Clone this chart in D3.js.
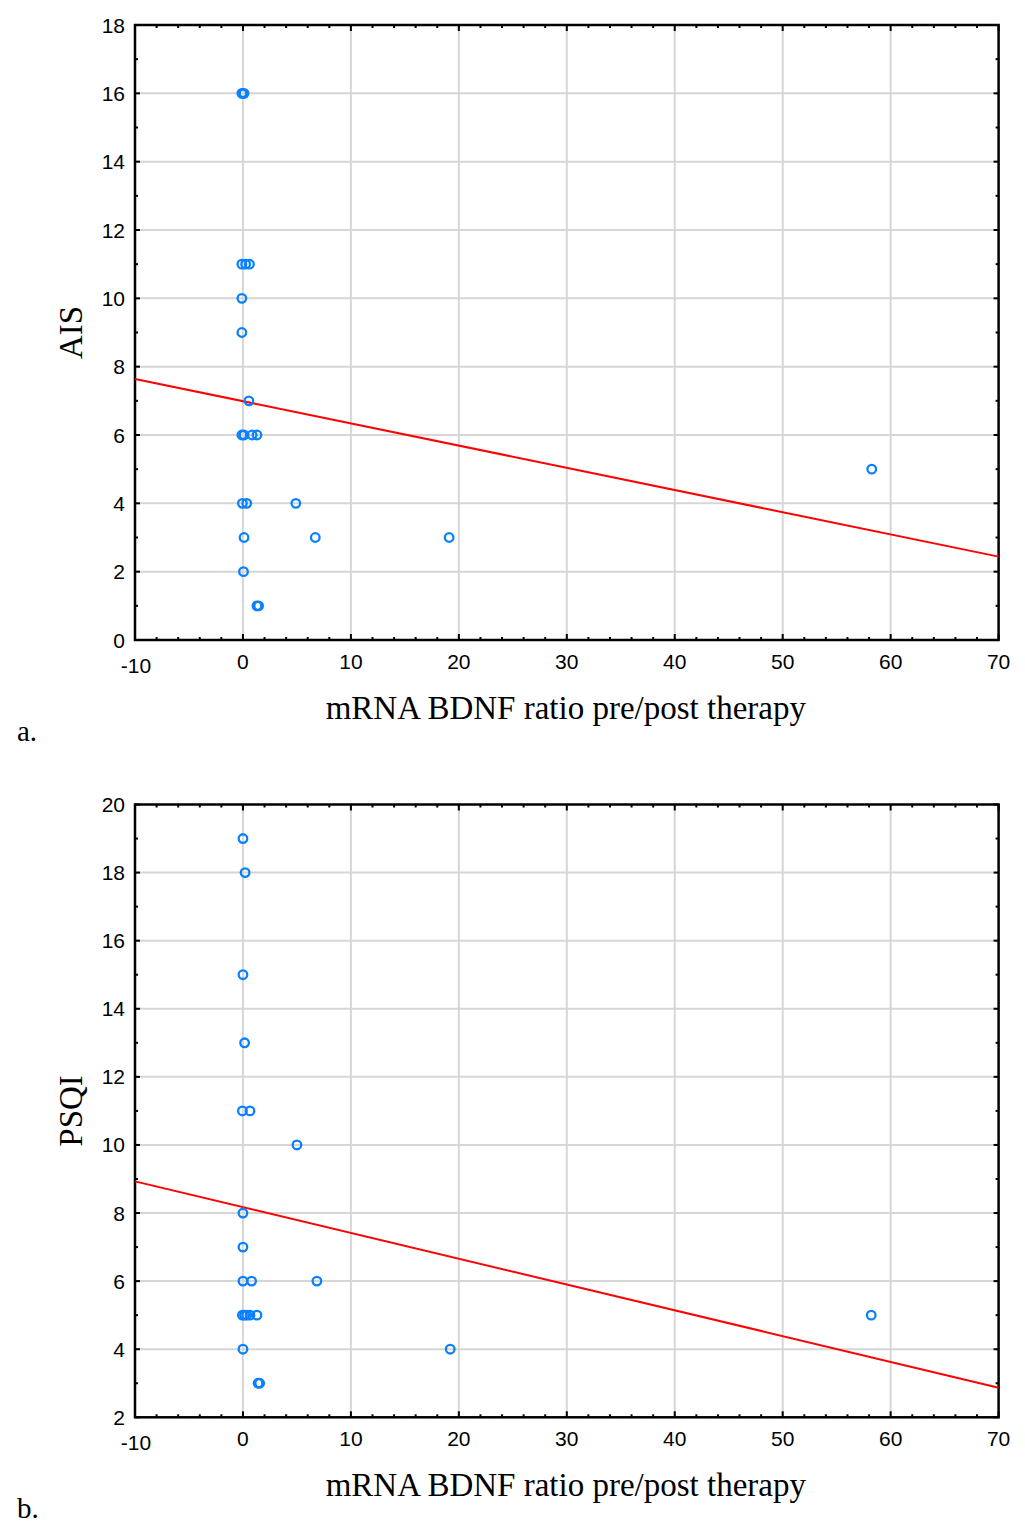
<!DOCTYPE html>
<html>
<head>
<meta charset="utf-8">
<script src="https://cdn.jsdelivr.net/npm/d3@7"></script>
<style>
  body { margin: 0; background: #fff; }
  svg { display: block; }
</style>
</head>
<body>
<svg id="chart" width="1025" height="1535"></svg>
<script>
// data
const AIS_X = [-0.1, 0.0, 0.1, -0.1, 0.25, 0.6, -0.1, -0.1, 0.55, -0.1, 0.1, 0.85, 1.3,
               -0.05, 0.35, 4.9, 0.1, 6.7, 19.1, 0.05, 1.3, 1.45, 58.25];
const AIS_Y = [16, 16, 16, 11, 11, 11, 10, 9, 7, 6, 6, 6, 6,
               4, 4, 4, 3, 3, 3, 2, 1, 1, 5];
const AIS_FIT = [[-10, 7.64], [70, 2.44]];

const PSQI_X = [0.0, 0.2, 0.0, 0.15, -0.05, 0.65, 5.0, 0.0, 0.0, 0.0, 0.8, 6.85,
                -0.05, 0.15, 0.35, 0.65, 1.3, 58.2, 0.0, 19.2, 1.4, 1.55];
const PSQI_Y = [19, 18, 15, 13, 11, 11, 10, 8, 7, 6, 6, 6,
                5, 5, 5, 5, 5, 5, 4, 4, 3, 3];
const PSQI_FIT = [[-10, 8.93], [70, 2.87]];

const X_TICKS = [-10, 0, 10, 20, 30, 40, 50, 60, 70];
const AIS_TICKS = [0, 2, 4, 6, 8, 10, 12, 14, 16, 18];
const PSQI_TICKS = [2, 4, 6, 8, 10, 12, 14, 16, 18, 20];
const X_LABEL = "mRNA BDNF ratio pre/post therapy";

const SVG = d3.select("#chart");
const LEFT = 135, RIGHT = 998.6;
const GRID = "#d6d6d6";
const DOT = "#0a80ff";
const SANS = "'Liberation Sans', Arial, sans-serif";
const SERIF = "'Liberation Serif', 'Times New Roman', serif";

function draw_panel(cfg) {
    const x = d3.scaleLinear().domain([-10, 70]).range([LEFT, RIGHT]);
    const y = d3.scaleLinear().domain(cfg.yDomain).range([cfg.bottom, cfg.top]);
    const g = SVG.append("g");

    // grid
    g.selectAll(".vg").data(X_TICKS.slice(1, -1)).join("line")
        .attr("x1", d => x(d)).attr("x2", d => x(d))
        .attr("y1", cfg.top).attr("y2", cfg.bottom)
        .attr("stroke", GRID).attr("stroke-width", 2);
    g.selectAll(".hg").data(cfg.yTicks.slice(1, -1)).join("line")
        .attr("x1", LEFT).attr("x2", RIGHT)
        .attr("y1", d => y(d)).attr("y2", d => y(d))
        .attr("stroke", GRID).attr("stroke-width", 2);

    // inward ticks, major and minor, on all four sides
    const xMinor = d3.range(-10, 70.01, 2);
    const yMinor = d3.range(cfg.yDomain[0], cfg.yDomain[1] + 0.01, 1);
    const tk = g.append("g").attr("stroke", "#000").attr("stroke-width", 2);
    xMinor.forEach(v => {
        const len = v % 10 === 0 ? 6 : 3;
        tk.append("line").attr("x1", x(v)).attr("x2", x(v)).attr("y1", cfg.bottom).attr("y2", cfg.bottom - len);
        tk.append("line").attr("x1", x(v)).attr("x2", x(v)).attr("y1", cfg.top).attr("y2", cfg.top + len);
    });
    yMinor.forEach(v => {
        const len = v % 2 === 0 ? 5 : 3;
        tk.append("line").attr("y1", y(v)).attr("y2", y(v)).attr("x1", LEFT).attr("x2", LEFT + len);
        tk.append("line").attr("y1", y(v)).attr("y2", y(v)).attr("x1", RIGHT).attr("x2", RIGHT - len);
    });

    // frame
    g.append("rect")
        .attr("x", LEFT).attr("y", cfg.top)
        .attr("width", RIGHT - LEFT).attr("height", cfg.bottom - cfg.top)
        .attr("fill", "none").attr("stroke", "#000").attr("stroke-width", 2.5);

    // tick labels
    g.selectAll(".yl").data(cfg.yTicks).join("text")
        .attr("x", LEFT - 10).attr("y", d => y(d) + 7.5)
        .attr("text-anchor", "end")
        .style("font-family", SANS)
        .style("font-size", "21px")
        .text(d => d);
    g.selectAll(".xl").data(X_TICKS).join("text")
        .attr("x", d => x(d) + (d === -10 ? 1 : 0))
        .attr("y", d => cfg.bottom + (d === -10 ? 33 : 29))
        .attr("text-anchor", "middle")
        .style("font-family", SANS)
        .style("font-size", "21px")
        .text(d => d < 0 ? "-" + Math.abs(d) : d);

    // fit line
    g.append("path")
        .datum(cfg.fit)
        .attr("d", d3.line().x(d => x(d[0])).y(d => y(d[1])))
        .attr("stroke", "#ff0000").attr("stroke-width", 2).attr("fill", "none");

    // points
    g.selectAll(".pt").data(cfg.xs.map((v, i) => [v, cfg.ys[i]])).join("circle")
        .attr("cx", d => x(d[0])).attr("cy", d => y(d[1]))
        .attr("r", 4.3)
        .attr("fill", "none").attr("stroke", DOT).attr("stroke-width", 2.3);

    // titles
    g.append("text")
        .attr("x", (LEFT + RIGHT) / 2 - 1).attr("y", cfg.bottom + 79)
        .attr("text-anchor", "middle")
        .style("font-family", SERIF)
        .style("font-size", "33px")
        .text(X_LABEL);
    g.append("text")
        .attr("transform", `translate(82, ${(cfg.top + cfg.bottom) / 2}) rotate(-90)`)
        .attr("text-anchor", "middle")
        .style("font-family", SERIF)
        .style("font-size", "33px")
        .text(cfg.yLabel);
    g.append("text")
        .attr("x", 17).attr("y", cfg.bottom + 101)
        .style("font-family", SERIF)
        .style("font-size", "29px")
        .text(cfg.tag);
}

draw_panel({ top: 25, bottom: 640, yDomain: [0, 18], yTicks: AIS_TICKS,
             xs: AIS_X, ys: AIS_Y, fit: AIS_FIT, yLabel: "AIS", tag: "a." });
draw_panel({ top: 804.5, bottom: 1417.3, yDomain: [2, 20], yTicks: PSQI_TICKS,
             xs: PSQI_X, ys: PSQI_Y, fit: PSQI_FIT, yLabel: "PSQI", tag: "b." });
</script>
</body>
</html>
